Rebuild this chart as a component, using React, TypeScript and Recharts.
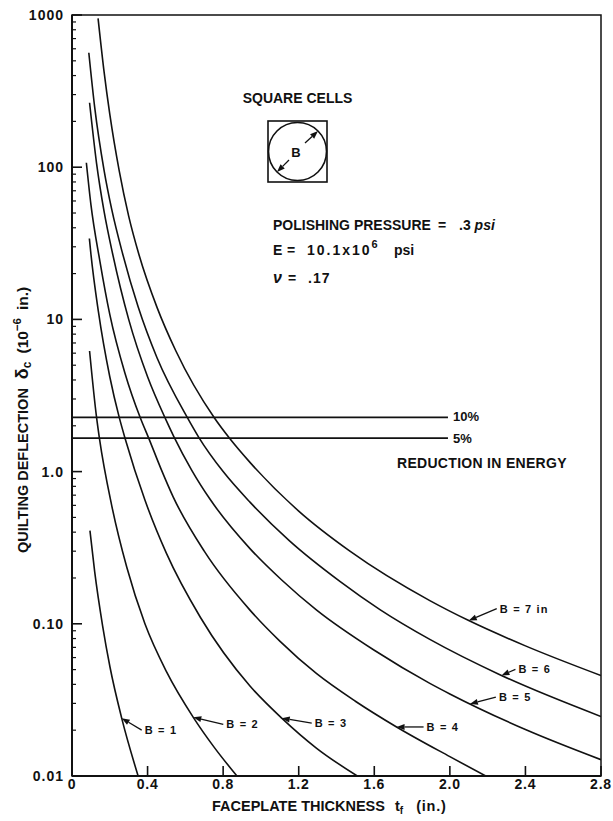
import React from 'react';
import { LineChart, Line, XAxis, YAxis, ReferenceArea } from 'recharts';

const W = 613;
const H = 821;
// plot box in page pixels (used by the chart margins and by the overlay annotations)
const PLOT = { left: 72, right: 601, top: 15, bottom: 776 };
const FONT = '"Liberation Sans", Arial, Helvetica, sans-serif';
const INK = '#111';

const X_TICKS = [0, 0.4, 0.8, 1.2, 1.6, 2.0, 2.4, 2.8];
const X_LABELS = ['0', '0.4', '0.8', '1.2', '1.6', '2.0', '2.4', '2.8'];
const Y_DECADES = [0.01, 0.1, 1, 10, 100, 1000];
const Y_LABELS = ['0.01', '0.10', '1.0', '10', '100', '1000'];
const Y_MINOR_STEPS = [2, 3, 4, 5, 6, 7, 8, 9];

// faceplate thickness t_f (in.) / quilting deflection (10^-6 in.)
const B1_T = [0.095, 0.12, 0.162, 0.201, 0.263, 0.35];
const B1_D = [0.41, 0.22, 0.097, 0.052, 0.024, 0.01];

const B2_T = [0.093, 0.13, 0.145, 0.21, 0.29, 0.386, 0.5, 0.642, 0.75, 0.873];
const B2_D = [6.2, 2.27, 1.66, 0.6, 0.235, 0.1, 0.0485, 0.0243, 0.0156, 0.01];

const B3_T = [0.092, 0.1, 0.14, 0.2, 0.25, 0.283, 0.386, 0.5, 0.68, 0.942, 1.11, 1.295, 1.51];
const B3_D = [34, 27, 11.2, 4.2, 2.27, 1.62, 0.65, 0.29, 0.11, 0.039, 0.024, 0.0152, 0.01];

const B4_T = [0.076, 0.1, 0.148, 0.2, 0.28, 0.362, 0.406, 0.47, 0.536, 0.7, 0.942, 1.1, 1.295, 1.5, 1.718, 2.0, 2.19];
const B4_D = [107, 57, 24, 10.8, 4.45, 2.25, 1.66, 1.05, 0.68, 0.3, 0.123, 0.077, 0.047, 0.031, 0.021, 0.0134, 0.01];

const B5_T = [0.093, 0.13, 0.17, 0.215, 0.3, 0.4, 0.495, 0.539, 0.634, 0.73, 0.942, 1.11, 1.295, 1.6, 1.894, 2.0, 2.4, 2.8];
const B5_D = [265, 106, 51, 27, 10, 4.2, 2.22, 1.7, 1.02, 0.66, 0.312, 0.194, 0.123, 0.067, 0.0406, 0.0346, 0.0202, 0.0128];

const B6_T = [0.089, 0.12, 0.17, 0.21, 0.268, 0.35, 0.45, 0.61, 0.671, 0.8, 0.942, 1.15, 1.418, 1.63, 1.894, 2.273, 2.8];
const B6_D = [565, 248, 95, 53, 27, 12.1, 5.6, 2.27, 1.68, 1.0, 0.63, 0.352, 0.19, 0.124, 0.079, 0.0458, 0.0246];

const B7_T = [0.138, 0.17, 0.2, 0.25, 0.3, 0.355, 0.45, 0.55, 0.754, 0.835, 0.942, 1.2, 1.471, 1.894, 2.1, 2.4, 2.8];
const B7_D = [950, 421, 223, 94.5, 47.7, 26.5, 12.0, 6.2, 2.25, 1.65, 1.15, 0.55, 0.3, 0.142, 0.105, 0.0716, 0.0457];

// energy-reduction limit lines
const LIMIT_T = [0, 1.99];
const LIMIT_10 = [2.27, 2.27];
const LIMIT_5 = [1.66, 1.66];

// curve labels: text, arrow tip on the curve (t, deflection), tail offset in px
const CURVE_LABELS = ['B = 1', 'B = 2', 'B = 3', 'B = 4', 'B = 5', 'B = 6', 'B = 7 in'];
const LABEL_TIP_T = [0.263, 0.642, 1.11, 1.718, 2.106, 2.273, 2.1];
const LABEL_TIP_D = [0.024, 0.0243, 0.024, 0.021, 0.0297, 0.0458, 0.105];
const LABEL_DX = [20, 30, 30, 27, 26, 14, 28];
const LABEL_DY = [12, 7, 5, 0, -7, -6, -12];

const toRows = (t: number[], d: number[]) => t.map((x, i) => ({ x, y: d[i] }));

const CURVES = [
  toRows(B1_T, B1_D),
  toRows(B2_T, B2_D),
  toRows(B3_T, B3_D),
  toRows(B4_T, B4_D),
  toRows(B5_T, B5_D),
  toRows(B6_T, B6_D),
  toRows(B7_T, B7_D),
];
const LIMITS = [toRows(LIMIT_T, LIMIT_10), toRows(LIMIT_T, LIMIT_5)];

const Y_TICKS = Y_DECADES.flatMap((d, i) =>
  i < Y_DECADES.length - 1 ? [d, ...Y_MINOR_STEPS.map((s) => +(d * s).toPrecision(3))] : [d],
);

const Y_TICK_MARGIN = 8;
const X_TICK_MARGIN = 4;

function YTick(props: any) {
  const { x, y, payload } = props;
  const v = payload.value as number;
  const axisX = x + Y_TICK_MARGIN;
  const idx = Y_DECADES.findIndex((d) => Math.abs(d - v) / d < 1e-6);
  const major = idx >= 0;
  return (
    <g>
      <line x1={axisX} x2={axisX + (major ? 10 : 4)} y1={y} y2={y} stroke={INK} strokeWidth={major ? 1.6 : 1.2} />
      {major && (
        <text
          x={x}
          y={y}
          dy={5}
          textAnchor="end"
          fontFamily={FONT}
          fontWeight={700}
          fontSize={14}
          letterSpacing={1}
          fill={INK}
        >
          {Y_LABELS[idx]}
        </text>
      )}
    </g>
  );
}

function XTick(props: any) {
  const { x, y, payload } = props;
  const axisY = y - X_TICK_MARGIN;
  const idx = X_TICKS.findIndex((t) => Math.abs(t - payload.value) < 1e-6);
  return (
    <g>
      {idx > 0 && <line x1={x} x2={x} y1={axisY} y2={axisY - 10} stroke={INK} strokeWidth={1.6} />}
      <text
        x={x}
        y={axisY + 13}
        textAnchor="middle"
        fontFamily={FONT}
        fontWeight={700}
        fontSize={14}
        letterSpacing={0.8}
        fill={INK}
      >
        {X_LABELS[idx]}
      </text>
    </g>
  );
}

// same mapping as the chart's scales, for placing the annotation arrows on the curves
const px = (t: number) => PLOT.left + ((PLOT.right - PLOT.left) * t) / 2.8;
const py = (d: number) => PLOT.top + ((PLOT.bottom - PLOT.top) * (3 - Math.log10(d))) / 5;

function Arrow({ x1, y1, x2, y2 }: { x1: number; y1: number; x2: number; y2: number }) {
  const dx = x2 - x1;
  const dy = y2 - y1;
  const len = Math.hypot(dx, dy) || 1;
  const ux = dx / len;
  const uy = dy / len;
  const hl = 8;
  const hw = 3;
  const bx = x2 - ux * hl;
  const by = y2 - uy * hl;
  return (
    <g>
      <line x1={x1} y1={y1} x2={bx} y2={by} stroke={INK} strokeWidth={1.3} />
      <polygon points={`${x2},${y2} ${bx - uy * hw},${by + ux * hw} ${bx + uy * hw},${by - ux * hw}`} fill={INK} />
    </g>
  );
}

function Overlay() {
  const txt = { fontFamily: FONT, fontWeight: 700, fill: INK } as const;
  return (
    <svg width={W} height={H} style={{ position: 'absolute', left: 0, top: 0, pointerEvents: 'none' }}>
      {/* cell sketch */}
      <text {...txt} x={297.5} y={103} fontSize={14} textAnchor="middle">
        SQUARE CELLS
      </text>
      <rect x={268} y={121} width={59} height={61} fill="none" stroke={INK} strokeWidth={1.6} />
      <circle cx={297.5} cy={151.5} r={29} fill="none" stroke={INK} strokeWidth={1.6} />
      <Arrow x1={289} y1={160} x2={277} y2={172} />
      <Arrow x1={305} y1={143} x2={318} y2={131} />
      <text {...txt} x={296} y={157} fontSize={13} textAnchor="middle">
        B
      </text>

      {/* material data */}
      <text {...txt} x={273} y={230} fontSize={14}>
        POLISHING PRESSURE
        <tspan x={438}>=</tspan>
        <tspan x={459}>.3 </tspan>
        <tspan fontStyle="italic">psi</tspan>
      </text>
      <text {...txt} x={273} y={255} fontSize={14}>
        E<tspan x={287}>=</tspan>
        <tspan x={307} letterSpacing={2}>
          10.1x10
        </tspan>
        <tspan dy={-7} fontSize={11}>
          6
        </tspan>
        <tspan dy={7} x={394}>
          psi
        </tspan>
      </text>
      <text {...txt} x={273} y={283} fontSize={14}>
        <tspan fontStyle="italic" fontSize={16}>
          ν
        </tspan>
        <tspan x={288}>=</tspan>
        <tspan x={308} letterSpacing={1}>
          .17
        </tspan>
      </text>

      {/* limit lines */}
      <text {...txt} x={453} y={421} fontSize={13}>
        10%
      </text>
      <text {...txt} x={453} y={443} fontSize={13}>
        5%
      </text>
      <text {...txt} x={397} y={468} fontSize={14} letterSpacing={0.3}>
        REDUCTION IN ENERGY
      </text>

      {/* curve labels */}
      {CURVE_LABELS.map((label, i) => {
        const tx = px(LABEL_TIP_T[i]);
        const ty = py(LABEL_TIP_D[i]);
        const sx = tx + LABEL_DX[i];
        const sy = ty + LABEL_DY[i];
        return (
          <g key={label}>
            <Arrow x1={sx} y1={sy} x2={tx} y2={ty} />
            <text {...txt} x={sx + 3} y={sy + 4} fontSize={11} letterSpacing={1.2}>
              {label}
            </text>
          </g>
        );
      })}

      {/* axis titles */}
      <text {...txt} x={212} y={811} fontSize={14.5}>
        FACEPLATE THICKNESS
        <tspan dx={10}>t</tspan>
        <tspan dy={3} fontSize={10}>
          f
        </tspan>
        <tspan dy={-3} dx={13} letterSpacing={0.8}>
          (in.)
        </tspan>
      </text>
      <text {...txt} transform="translate(28,553) rotate(-90)" fontSize={14.5}>
        QUILTING DEFLECTION
        <tspan dx={9} fontSize={18}>
          δ
        </tspan>
        <tspan dy={3} fontSize={12}>
          c
        </tspan>
        <tspan dy={-3} dx={8} fontSize={15.5}>
          (10
        </tspan>
        <tspan dy={-7} fontSize={11.5}>
          −6
        </tspan>
        <tspan dy={7} dx={8} fontSize={15.5}>
          in.)
        </tspan>
      </text>
    </svg>
  );
}

export default function App() {
  return (
    <div style={{ position: 'absolute', left: 0, top: 0, width: W, height: H, background: '#fff' }}>
      <LineChart
        width={W}
        height={H}
        margin={{ top: PLOT.top, right: W - PLOT.right, bottom: 0, left: 0 }}
        style={{ fontFamily: FONT }}
      >
        <XAxis
          type="number"
          dataKey="x"
          domain={[0, 2.8]}
          ticks={X_TICKS}
          interval={0}
          height={H - PLOT.bottom}
          tickSize={0}
          tickMargin={X_TICK_MARGIN}
          tickLine={false}
          tick={XTick}
          axisLine={{ stroke: INK, strokeWidth: 2 }}
          allowDataOverflow
        />
        <YAxis
          type="number"
          scale="log"
          domain={[0.01, 1000]}
          ticks={Y_TICKS}
          interval={0}
          width={PLOT.left}
          tickSize={0}
          tickMargin={Y_TICK_MARGIN}
          tickLine={false}
          tick={YTick}
          axisLine={{ stroke: INK, strokeWidth: 2 }}
          allowDataOverflow
        />
        <ReferenceArea x1={0} x2={2.8} y1={0.01} y2={1000} fill="none" stroke={INK} strokeWidth={1.5} />
        {LIMITS.map((rows, i) => (
          <Line
            key={`lim${i}`}
            data={rows}
            dataKey="y"
            type="linear"
            stroke={INK}
            strokeWidth={1.8}
            dot={false}
            activeDot={false}
            isAnimationActive={false}
          />
        ))}
        {CURVES.map((rows, i) => (
          <Line
            key={`b${i + 1}`}
            data={rows}
            dataKey="y"
            type="monotone"
            stroke={INK}
            strokeWidth={1.6}
            dot={false}
            activeDot={false}
            isAnimationActive={false}
          />
        ))}
      </LineChart>
      <Overlay />
    </div>
  );
}
